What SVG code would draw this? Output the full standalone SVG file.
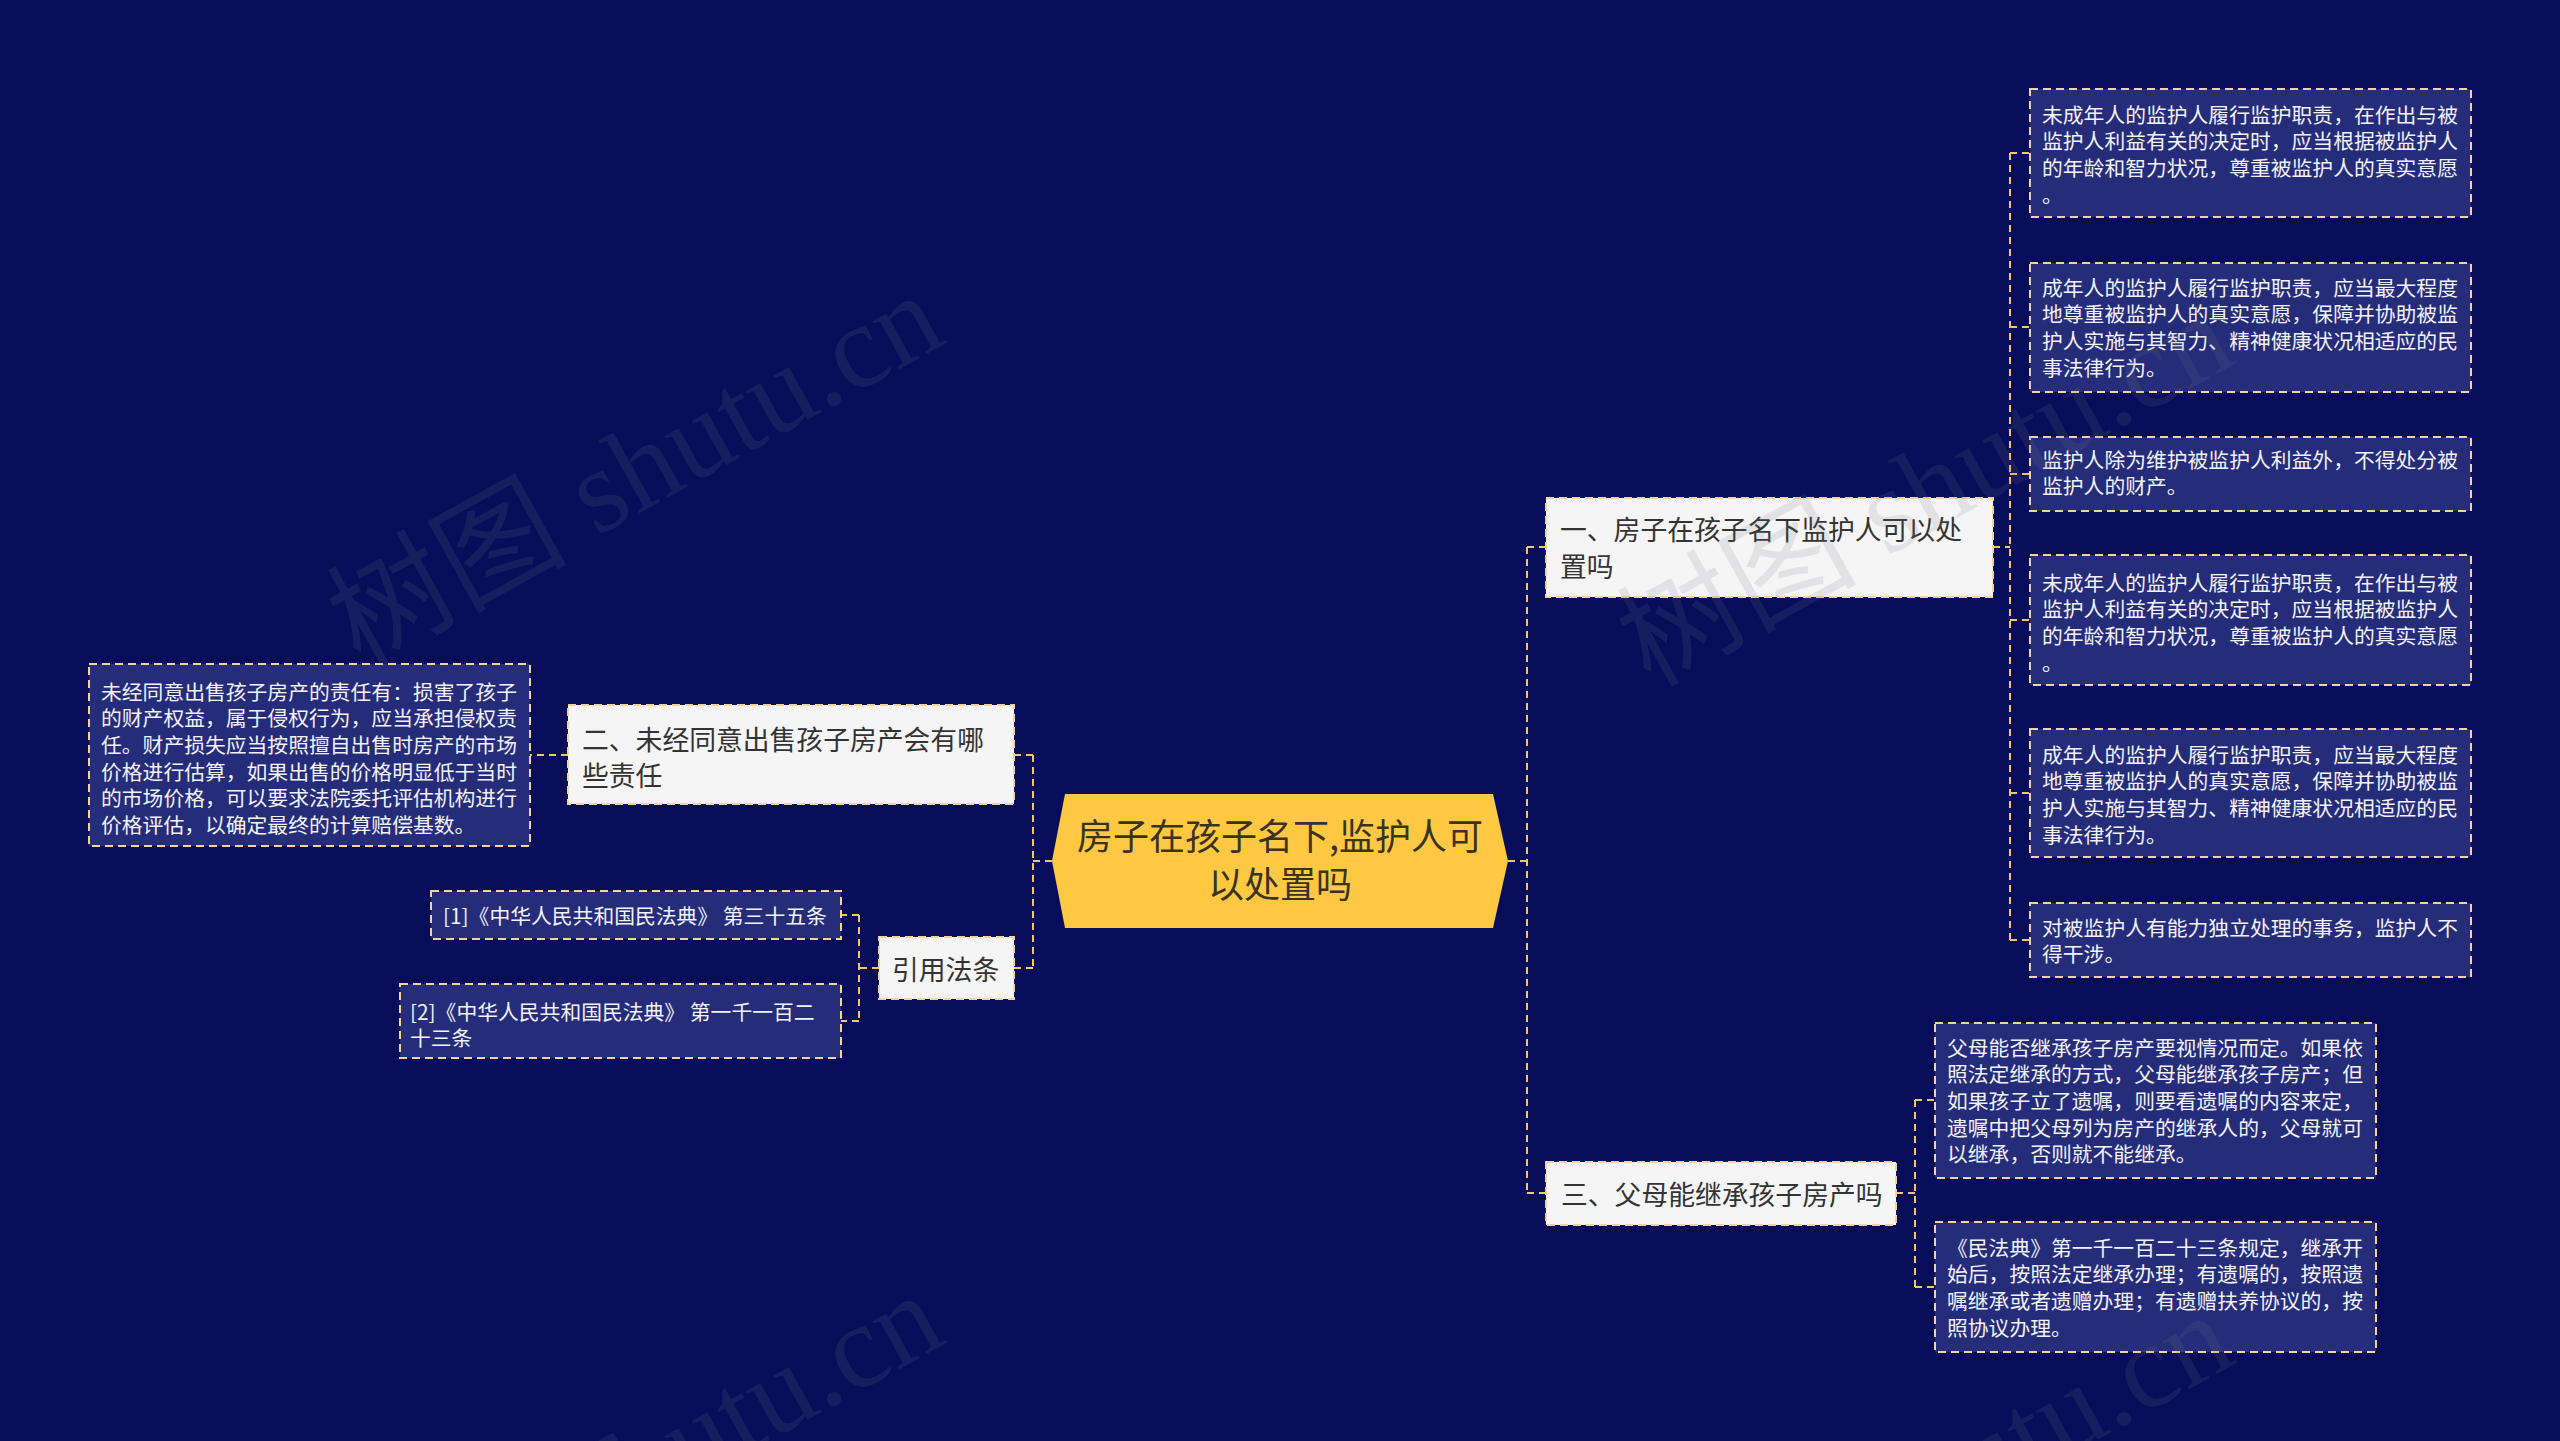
<svg xmlns="http://www.w3.org/2000/svg" width="2560" height="1441" viewBox="0 0 2560 1441">
<style>
.bg{fill:#080d5a}
.conn path{fill:none;stroke:#f2c660;stroke-width:2;stroke-dasharray:7 5}
.leaf{fill:#252c7a;stroke:#f3d29c;stroke-width:2;stroke-dasharray:8 5}
.br{fill:#f5f5f5;stroke:#f3d29c;stroke-width:2;stroke-dasharray:8 5}
.lt{font-family:"Noto Sans CJK SC","Noto Sans",sans-serif;font-size:20.8px;fill:#f2f2f8}
.bt{font-family:"Noto Sans CJK SC","Noto Sans",sans-serif;font-size:26.8px;fill:#333333}
.ct{font-family:"Noto Sans CJK SC","Noto Sans",sans-serif;font-size:36px;fill:#3a3320;text-anchor:middle}
.wm{font-family:"Liberation Serif","Noto Sans CJK SC",serif;font-size:120px;fill:rgba(120,120,135,0.15)}
</style>
<rect class="bg" x="0" y="0" width="2560" height="1441"/>
<g id="connectors" class="conn">
<path d="M1508,861 H1527 M1527,547 V1193 M1527,547 H1546 M1527,1193 H1546"/>
<path d="M1052,861 H1033 M1033,755 V968 M1033,755 H1014 M1033,968 H1014"/>
<path d="M568,755 H530"/>
<path d="M879,968 H859 M859,915 V1021 M859,915 H841 M859,1021 H841"/>
<path d="M1896,1193 H1915 M1915,1100 V1287 M1915,1100 H1935 M1915,1287 H1935"/>
<path d="M1993,547 H2010 M2010,153 V940 M2010,153 H2030 M2010,327 H2030 M2010,474 H2030 M2010,620 H2030 M2010,793 H2030 M2010,940 H2030"/>
</g>
<g id="center">
<polygon points="1065,794 1493,794 1508,861 1493,928 1065,928 1052,861" fill="#fec843"/>
<text class="ct" x="1280" y="849.6">房子在孩子名下,监护人可</text>
<text class="ct" x="1280" y="897.6">以处置吗</text>
</g>
<g id="branch1">
<rect class="br" x="1546" y="498" width="447" height="99"/>
<text class="bt" x="1560" y="540">一、房子在孩子名下监护人可以处</text>
<text class="bt" x="1560" y="577">置吗</text>
</g>
<g id="b1c1">
<rect class="leaf" x="2030" y="89" width="441" height="128"/>
<text class="lt" x="2042" y="122.5">未成年人的监护人履行监护职责，在作出与被</text>
<text class="lt" x="2042" y="149.2">监护人利益有关的决定时，应当根据被监护人</text>
<text class="lt" x="2042" y="175.9">的年龄和智力状况，尊重被监护人的真实意愿</text>
<text class="lt" x="2042" y="202.6">。</text>
</g>
<g id="b1c2">
<rect class="leaf" x="2030" y="263" width="441" height="129"/>
<text class="lt" x="2042" y="295.5">成年人的监护人履行监护职责，应当最大程度</text>
<text class="lt" x="2042" y="322.2">地尊重被监护人的真实意愿，保障并协助被监</text>
<text class="lt" x="2042" y="348.9">护人实施与其智力、精神健康状况相适应的民</text>
<text class="lt" x="2042" y="375.6">事法律行为。</text>
</g>
<g id="b1c3">
<rect class="leaf" x="2030" y="437" width="441" height="74"/>
<text class="lt" x="2042" y="467.5">监护人除为维护被监护人利益外，不得处分被</text>
<text class="lt" x="2042" y="494.2">监护人的财产。</text>
</g>
<g id="b1c4">
<rect class="leaf" x="2030" y="555" width="441" height="130"/>
<text class="lt" x="2042" y="590.5">未成年人的监护人履行监护职责，在作出与被</text>
<text class="lt" x="2042" y="617.2">监护人利益有关的决定时，应当根据被监护人</text>
<text class="lt" x="2042" y="643.9">的年龄和智力状况，尊重被监护人的真实意愿</text>
<text class="lt" x="2042" y="670.6">。</text>
</g>
<g id="b1c5">
<rect class="leaf" x="2030" y="729" width="441" height="128"/>
<text class="lt" x="2042" y="762.5">成年人的监护人履行监护职责，应当最大程度</text>
<text class="lt" x="2042" y="789.2">地尊重被监护人的真实意愿，保障并协助被监</text>
<text class="lt" x="2042" y="815.9">护人实施与其智力、精神健康状况相适应的民</text>
<text class="lt" x="2042" y="842.6">事法律行为。</text>
</g>
<g id="b1c6">
<rect class="leaf" x="2030" y="903" width="441" height="74"/>
<text class="lt" x="2042" y="935.5">对被监护人有能力独立处理的事务，监护人不</text>
<text class="lt" x="2042" y="962.2">得干涉。</text>
</g>
<g id="branch2">
<rect class="br" x="568" y="705" width="446" height="99"/>
<text class="bt" x="582" y="749.5">二、未经同意出售孩子房产会有哪</text>
<text class="bt" x="582" y="786">些责任</text>
</g>
<g id="b2c1">
<rect class="leaf" x="89" y="664" width="441" height="182"/>
<text class="lt" x="101" y="699.5">未经同意出售孩子房产的责任有：损害了孩子</text>
<text class="lt" x="101" y="726.2">的财产权益，属于侵权行为，应当承担侵权责</text>
<text class="lt" x="101" y="752.9">任。财产损失应当按照擅自出售时房产的市场</text>
<text class="lt" x="101" y="779.6">价格进行估算，如果出售的价格明显低于当时</text>
<text class="lt" x="101" y="806.3">的市场价格，可以要求法院委托评估机构进行</text>
<text class="lt" x="101" y="833">价格评估，以确定最终的计算赔偿基数。</text>
</g>
<g id="refs">
<rect class="br" x="879" y="937" width="135" height="62"/>
<text class="bt" x="892" y="979.5">引用法条</text>
</g>
<g id="ref1">
<rect class="leaf" x="431" y="891" width="410" height="48"/>
<text class="lt" x="443" y="923.5">[1]《中华人民共和国民法典》 第三十五条</text>
</g>
<g id="ref2">
<rect class="leaf" x="400" y="984" width="441" height="74"/>
<text class="lt" x="410" y="1019.5">[2]《中华人民共和国民法典》 第一千一百二</text>
<text class="lt" x="410" y="1046.2">十三条</text>
</g>
<g id="branch3">
<rect class="br" x="1546" y="1162" width="350" height="63"/>
<text class="bt" x="1561" y="1204.5">三、父母能继承孩子房产吗</text>
</g>
<g id="b3c1">
<rect class="leaf" x="1935" y="1023" width="441" height="155"/>
<text class="lt" x="1947" y="1055.5">父母能否继承孩子房产要视情况而定。如果依</text>
<text class="lt" x="1947" y="1082.2">照法定继承的方式，父母能继承孩子房产；但</text>
<text class="lt" x="1947" y="1108.9">如果孩子立了遗嘱，则要看遗嘱的内容来定，</text>
<text class="lt" x="1947" y="1135.6">遗嘱中把父母列为房产的继承人的，父母就可</text>
<text class="lt" x="1947" y="1162.3">以继承，否则就不能继承。</text>
</g>
<g id="b3c2">
<rect class="leaf" x="1935" y="1222" width="441" height="130"/>
<text class="lt" x="1947" y="1255.5">《民法典》第一千一百二十三条规定，继承开</text>
<text class="lt" x="1947" y="1282.2">始后，按照法定继承办理；有遗嘱的，按照遗</text>
<text class="lt" x="1947" y="1308.9">嘱继承或者遗赠办理；有遗赠扶养协议的，按</text>
<text class="lt" x="1947" y="1335.6">照协议办理。</text>
</g>
<g id="watermark">
<text class="wm" x="360" y="668" transform="rotate(-29 360 668)">树图 shutu.cn</text>
<text class="wm" x="1650" y="688" transform="rotate(-29 1650 688)">树图 shutu.cn</text>
<text class="wm" x="360" y="1668" transform="rotate(-29 360 1668)">树图 shutu.cn</text>
<text class="wm" x="1650" y="1688" transform="rotate(-29 1650 1688)">树图 shutu.cn</text>
</g>
</svg>
